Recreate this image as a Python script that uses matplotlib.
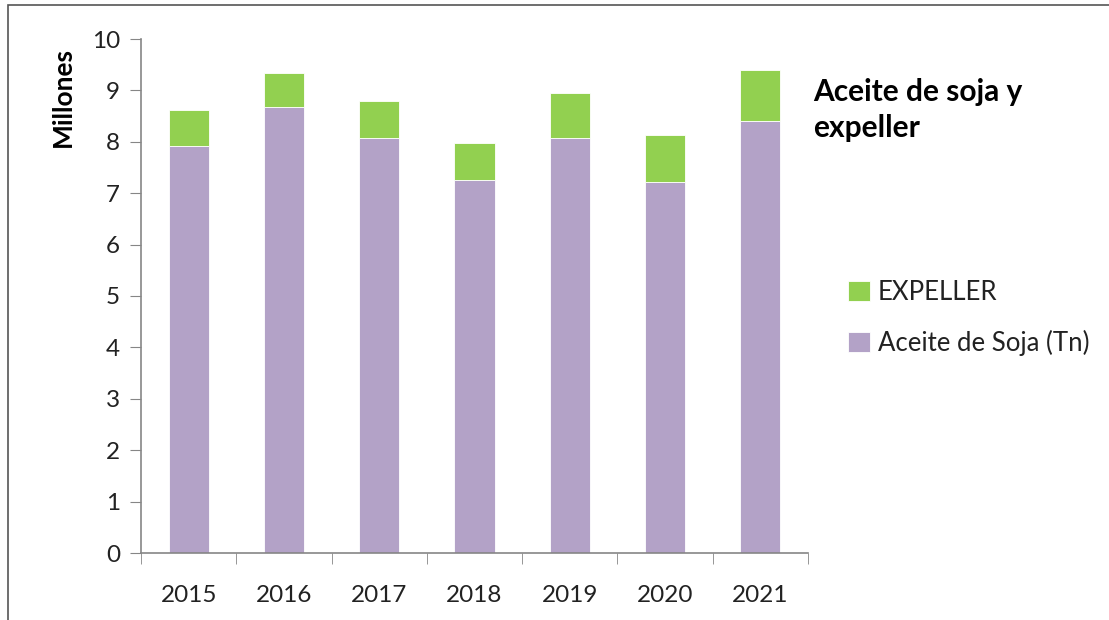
import matplotlib.pyplot as plt
import numpy as np
from matplotlib.patches import Rectangle

# values (millions of tonnes)
years = ["2015", "2016", "2017", "2018", "2019", "2020", "2021"]
aceite = [7.91, 8.68, 8.08, 7.25, 8.08, 7.21, 8.40]
total = [8.61, 9.33, 8.80, 7.98, 8.94, 8.14, 9.40]
expeller = [t - a for t, a in zip(total, aceite)]

green = "#92D050"
purple = "#B3A2C7"
axis_col = "#868686"

plt.rcParams['font.family'] = ['Lato', 'DejaVu Sans']

fig = plt.figure(figsize=(11.09, 6.20), dpi=100)
ax = fig.add_axes([141 / 1109, 1 - 553 / 620, (808 - 141) / 1109, (553 - 39) / 620])

x = np.arange(len(years))
ax.bar(x, aceite, width=0.42, color=purple, edgecolor="white", linewidth=0.6,
       label="Aceite de Soja (Tn)", zorder=2)
ax.bar(x, expeller, width=0.42, bottom=aceite, color=green, edgecolor="white",
       linewidth=0.6, label="EXPELLER", zorder=2)

ax.set_xlim(-0.5, len(years) - 0.5)
ax.set_ylim(0, 10)
ax.set_yticks(range(0, 11))
ax.set_xticks(x)
ax.set_xticklabels(years)
ax.set_xticks(np.arange(-0.5, len(years)), minor=True)
ax.tick_params(axis="x", which="major", length=0, pad=23, labelsize=17.5, labelcolor="#222222")
ax.tick_params(axis="x", which="minor", length=8, color=axis_col, direction="out")
ax.tick_params(axis="y", length=8, color=axis_col, direction="out", pad=7,
               labelsize=17.5, labelcolor="#222222")

for s in ["top", "right"]:
    ax.spines[s].set_visible(False)
for s in ["left", "bottom"]:
    ax.spines[s].set_color(axis_col)
    ax.spines[s].set_linewidth(1.2)

fig.text(63 / 1109, 1 - 97 / 620, "Millones", rotation=90, fontsize=19,
         fontweight="bold", ha="center", va="center")

fig.text(813 / 1109, 1 - 110 / 620, "Aceite de soja y\nexpeller", fontsize=21.5,
         fontweight="bold", ha="left", va="center", linespacing=1.35)

handles, labels = ax.get_legend_handles_labels()
leg = fig.legend(handles[::-1], labels[::-1], loc="upper left",
                 bbox_to_anchor=(825 / 1109, 1 - 257 / 620), frameon=False,
                 fontsize=18.5, handlelength=0.85, handleheight=0.85,
                 handletextpad=0.3, labelspacing=0.95)
for t in leg.get_texts():
    t.set_color("#222222")

# chart border
fig.patches.append(Rectangle((8 / 1109, -0.1), 1.2, 1 - 5 / 620 + 0.1,
                             transform=fig.transFigure, fill=False,
                             edgecolor="#555555", linewidth=1.2))

fig.savefig("out.png", dpi=100)
